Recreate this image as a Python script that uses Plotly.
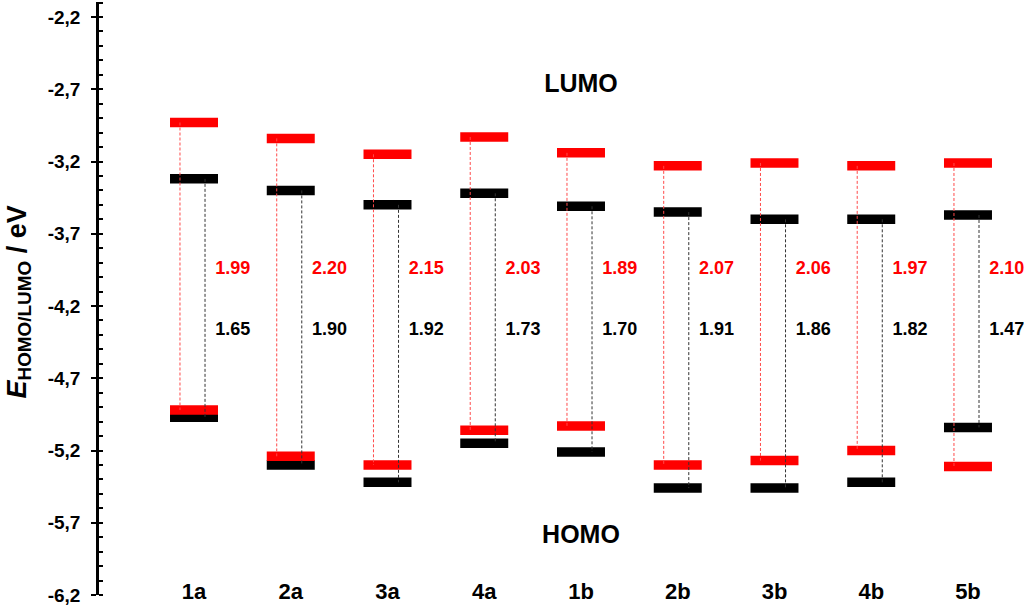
import plotly.graph_objects as go

# ---- data ----
categories = ["1a", "2a", "3a", "4a", "1b", "2b", "3b", "4b", "5b"]
red_lumo = [-2.93, -3.04, -3.15, -3.03, -3.14, -3.23, -3.21, -3.23, -3.21]
red_homo = [-4.92, -5.24, -5.30, -5.06, -5.03, -5.30, -5.27, -5.20, -5.31]
black_lumo = [-3.32, -3.40, -3.50, -3.42, -3.51, -3.55, -3.60, -3.60, -3.57]
black_homo = [-4.97, -5.30, -5.42, -5.15, -5.21, -5.46, -5.46, -5.42, -5.04]
red_gap_labels = ["1.99", "2.20", "2.15", "2.03", "1.89", "2.07", "2.06", "1.97", "2.10"]
black_gap_labels = ["1.65", "1.90", "1.92", "1.73", "1.70", "1.91", "1.86", "1.82", "1.47"]
y_tick_vals = [-2.2, -2.7, -3.2, -3.7, -4.2, -4.7, -5.2, -5.7, -6.2]
y_tick_text = ["-2,2", "-2,7", "-3,2", "-3,7", "-4,2", "-4,7", "-5,2", "-5,7", "-6,2"]

# ---- layout constants ----
RED = "#ff0000"
BLACK = "#000000"
HALF = 0.248
pos = list(range(len(categories)))
FONT = "Liberation Sans, Arial, sans-serif"
Y_RANGE = [-6.2, -2.096]


def level_segments(values):
    xs, ys = [], []
    for i, v in zip(pos, values):
        xs += [i - HALF, i + HALF, None]
        ys += [v, v, None]
    return xs, ys


def connectors(top, bottom, dx):
    xs, ys = [], []
    for i, a, b in zip(pos, top, bottom):
        xs += [i + dx, i + dx, None]
        ys += [a, b, None]
    return xs, ys


fig = go.Figure()

# black levels first, red on top
for vals, col in [(black_lumo, BLACK), (black_homo, BLACK), (red_lumo, RED), (red_homo, RED)]:
    xs, ys = level_segments(vals)
    fig.add_trace(go.Scatter(x=xs, y=ys, mode="lines",
                             line=dict(color=col, width=9.5), hoverinfo="skip"))

# dashed connectors
xs, ys = connectors(red_lumo, red_homo, -0.145)
fig.add_trace(go.Scatter(x=xs, y=ys, mode="lines",
                         line=dict(color="#ff4a4a", width=1, dash="3px,2px"), hoverinfo="skip"))
xs, ys = connectors(black_lumo, black_homo, 0.114)
fig.add_trace(go.Scatter(x=xs, y=ys, mode="lines",
                         line=dict(color="#333333", width=1, dash="3px,2px"), hoverinfo="skip"))

# gap labels
fig.add_trace(go.Scatter(x=[i + 0.22 for i in pos], y=[-3.95] * len(pos), mode="text",
                         text=red_gap_labels, textposition="middle right", cliponaxis=False,
                         textfont=dict(family=FONT, size=18, color=RED, weight=700),
                         hoverinfo="skip"))
fig.add_trace(go.Scatter(x=[i + 0.22 for i in pos], y=[-4.37] * len(pos), mode="text",
                         text=black_gap_labels, textposition="middle right", cliponaxis=False,
                         textfont=dict(family=FONT, size=18, color=BLACK, weight=700),
                         hoverinfo="skip"))

# category labels
fig.add_trace(go.Scatter(x=pos, y=[-6.19] * len(pos), mode="text", text=categories,
                         textposition="middle center", cliponaxis=False,
                         textfont=dict(family=FONT, size=22, color=BLACK, weight=700),
                         hoverinfo="skip"))

# LUMO / HOMO labels
fig.add_trace(go.Scatter(x=[4, 4], y=[-2.675, -5.80], mode="text", text=["LUMO", "HOMO"],
                         textposition="middle center", cliponaxis=False,
                         textfont=dict(family=FONT, size=25, color=BLACK, weight=700),
                         hoverinfo="skip"))

fig.update_layout(
    width=1024, height=607,
    margin=dict(l=99, r=0, t=2, b=12, autoexpand=False),
    plot_bgcolor="white", paper_bgcolor="white",
    showlegend=False,
    font=dict(family=FONT, color=BLACK),
    xaxis=dict(range=[-0.982, 8.579], visible=False, automargin=False),
    yaxis=dict(
        range=Y_RANGE, automargin=False,
        showline=True, linewidth=2.5, linecolor=BLACK,
        showgrid=False, zeroline=False,
        ticks="outside", ticklen=5, tickwidth=2, tickcolor=BLACK,
        ticklabelstandoff=7,
        tickvals=y_tick_vals, ticktext=y_tick_text,
        tickfont=dict(family=FONT, size=19, color=BLACK, weight=700),
        minor=dict(dtick=0.1, tick0=-2.2, ticks="inside", ticklen=4, tickwidth=1.5,
                   tickcolor=BLACK, showgrid=False),
    ),
    yaxis2=dict(
        range=Y_RANGE, overlaying="y", side="left", automargin=False,
        showline=False, showgrid=False, zeroline=False, showticklabels=False,
        ticks="inside", ticklen=4, tickwidth=2, tickcolor=BLACK,
        tickvals=y_tick_vals,
    ),
    annotations=[dict(
        text="<i>E</i><sub>HOMO/LUMO</sub> / eV",
        xref="paper", yref="paper", x=0, y=0.5, xanchor="center", yanchor="middle",
        xshift=-81, yshift=-4, textangle=-90, showarrow=False,
        font=dict(family=FONT, size=27, color=BLACK, weight=700),
    )],
)

fig.write_html("out.html", config={"displayModeBar": False},
               post_script="document.body.style.margin='0px';")
